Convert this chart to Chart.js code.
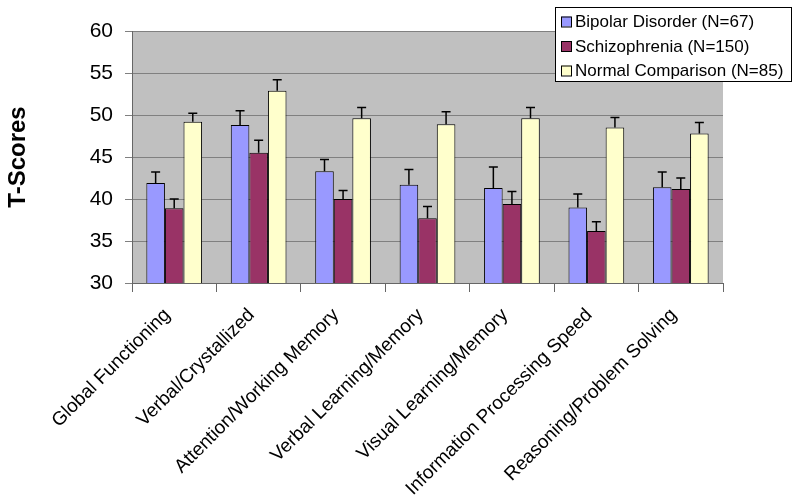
<!DOCTYPE html>
<html>
<head>
<meta charset="utf-8">
<script src="https://cdn.jsdelivr.net/npm/chart.js@4/dist/chart.umd.min.js"></script>
<style>
  html, body { margin: 0; padding: 0; background: #fff; }
  #wrap { width: 800px; height: 498px; }
</style>
</head>
<body>
<div id="wrap"><canvas id="chart" width="800" height="498"></canvas></div>
<script>
// --- data ---
const categories = ['Global Functioning', 'Verbal/Crystallized', 'Attention/Working Memory',
  'Verbal Learning/Memory', 'Visual Learning/Memory', 'Information Processing Speed',
  'Reasoning/Problem Solving'];
const seriesNames = ['Bipolar Disorder (N=67)', 'Schizophrenia (N=150)', 'Normal Comparison (N=85)'];
const bipolar = [41.9, 48.8, 43.3, 41.7, 41.3, 39.0, 41.4];
const bipolarErr = [1.3, 1.7, 1.4, 1.8, 2.5, 1.6, 1.8];
const schizo = [38.9, 45.5, 40.0, 37.7, 39.4, 36.2, 41.2];
const schizoErr = [1.1, 1.5, 1.0, 1.4, 1.5, 1.1, 1.3];
const normal = [49.2, 52.9, 49.6, 48.9, 49.6, 48.5, 47.8];
const normalErr = [1.0, 1.3, 1.3, 1.5, 1.3, 1.2, 1.3];
const yTicks = [30, 35, 40, 45, 50, 55, 60];

const FONT = 'Arial, "Liberation Sans", sans-serif';
const colors = ['#9999FF', '#993366', '#FFFFCC'];

// upper error bars with caps, drawn through the y scale
const errorBars = {
  id: 'errorBars',
  afterDatasetsDraw(chart) {
    const ctx = chart.ctx;
    const y = chart.scales.y;
    ctx.save();
    ctx.strokeStyle = '#000';
    ctx.lineWidth = 1.5;
    chart.data.datasets.forEach((ds, i) => {
      const meta = chart.getDatasetMeta(i);
      meta.data.forEach((bar, j) => {
        const top = y.getPixelForValue(ds.data[j] + ds.err[j]);
        const base = y.getPixelForValue(ds.data[j]);
        ctx.beginPath();
        ctx.moveTo(bar.x, base);
        ctx.lineTo(bar.x, top);
        ctx.moveTo(bar.x - 4.5, top);
        ctx.lineTo(bar.x + 4.5, top);
        ctx.stroke();
      });
    });
    ctx.restore();
  }
};

// plot background
const plotBg = {
  id: 'plotBg',
  beforeDraw(chart) {
    const a = chart.chartArea;
    chart.ctx.save();
    chart.ctx.fillStyle = '#C0C0C0';
    chart.ctx.fillRect(a.left, a.top, a.right - a.left, a.bottom - a.top);
    chart.ctx.restore();
  }
};

// boxed legend sitting over the top-right corner
const boxLegend = {
  id: 'boxLegend',
  afterDraw(chart) {
    const ctx = chart.ctx;
    ctx.save();
    ctx.fillStyle = '#fff';
    ctx.fillRect(555, 7, 236, 74);
    ctx.strokeStyle = '#000';
    ctx.lineWidth = 1;
    ctx.strokeRect(555.5, 7.5, 236, 74);
    ctx.font = '17px ' + FONT;
    ctx.textBaseline = 'middle';
    chart.data.datasets.forEach((ds, i) => {
      const cy = 21.5 + i * 24.5;
      ctx.fillStyle = ds.backgroundColor;
      ctx.fillRect(561, cy - 5, 10, 10);
      ctx.strokeStyle = '#000';
      ctx.strokeRect(561.5, cy - 4.5, 10, 10);
      ctx.fillStyle = '#000';
      ctx.fillText(ds.label, 575, cy + 1);
    });
    ctx.restore();
  }
};

const datasets = [bipolar, schizo, normal].map((d, i) => ({
  label: seriesNames[i],
  data: d,
  err: [bipolarErr, schizoErr, normalErr][i],
  backgroundColor: colors[i],
  borderColor: '#000',
  borderWidth: 1,
  categoryPercentage: 0.66,
  barPercentage: 1.0
}));

new Chart(document.getElementById('chart'), {
  type: 'bar',
  data: { labels: categories, datasets },
  plugins: [plotBg, errorBars, boxLegend],
  options: {
    responsive: false,
    animation: false,
    layout: { padding: { top: 31, right: 77, left: 0, bottom: 0 } },
    plugins: { legend: { display: false }, tooltip: { enabled: false } },
    scales: {
      x: {
        grid: { display: true, drawOnChartArea: false, drawTicks: true, tickLength: 9, color: '#666' },
        border: { color: '#666', width: 1 },
        ticks: { color: '#000', font: { family: FONT, size: 19 }, minRotation: 45, maxRotation: 45, padding: 12, labelOffset: -7, autoSkip: false },
        afterFit(scale) { scale.height = 215; }
      },
      y: {
        min: 30, max: 60,
        afterBuildTicks(scale) { scale.ticks = yTicks.map(v => ({ value: v })); },
        grid: { color: '#808080', tickLength: 7, lineWidth: 1 },
        border: { color: '#666', width: 1 },
        ticks: { color: '#000', font: { family: FONT, size: 21 }, padding: 12 },
        title: { display: true, text: 'T-Scores', color: '#000', font: { family: FONT, size: 24, weight: 'bold' }, padding: { top: 4, bottom: 0 } },
        afterFit(scale) { scale.width = 132; }
      }
    }
  }
});
</script>
</body>
</html>
